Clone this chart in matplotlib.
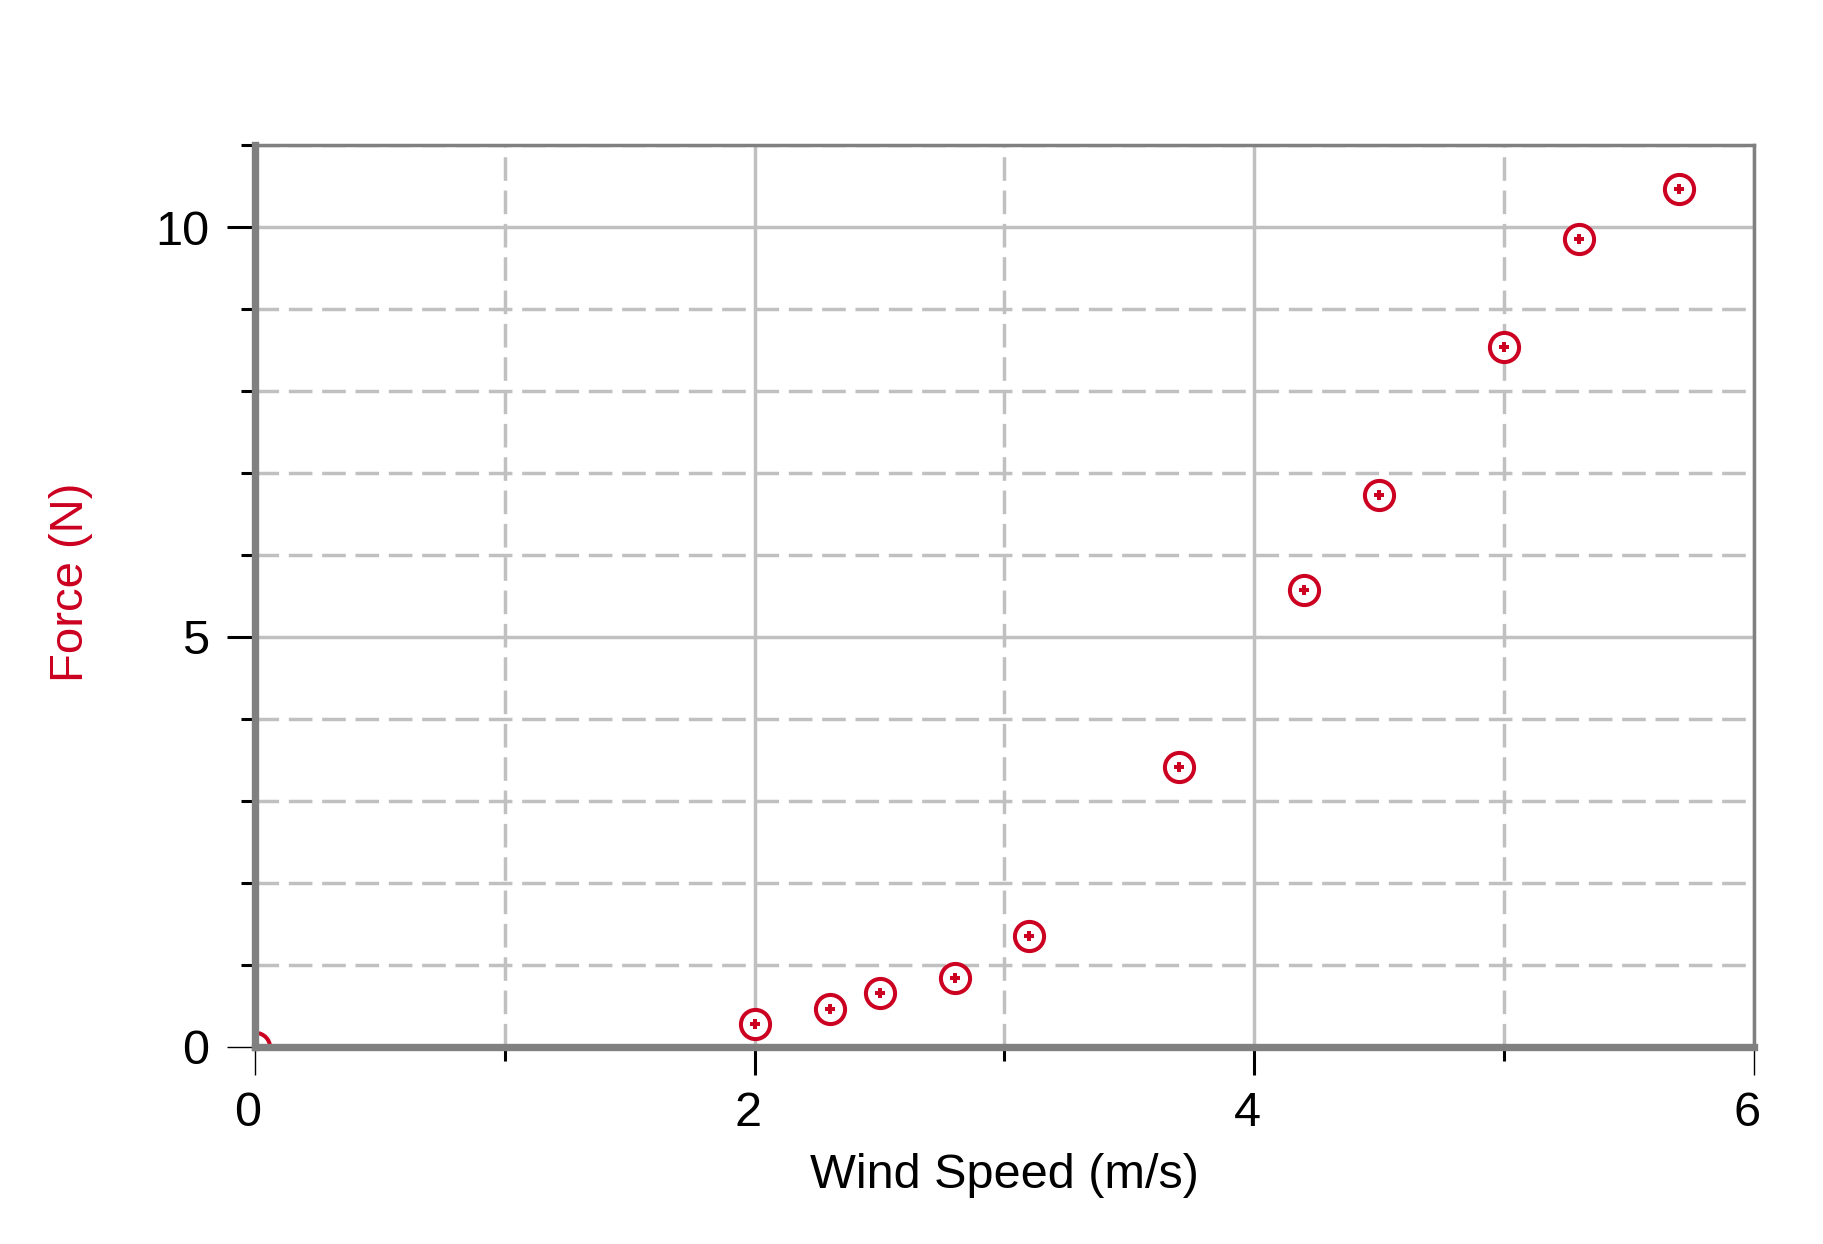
import matplotlib
matplotlib.use("Agg")
import matplotlib.pyplot as plt
from matplotlib.ticker import FixedLocator
from matplotlib.transforms import ScaledTranslation

wind_speed = [0.0, 2.0, 2.3, 2.5, 2.8, 3.1, 3.7, 4.2, 4.5, 5.0, 5.3, 5.7]
force = [0.0, 0.28, 0.46, 0.66, 0.84, 1.35, 3.41, 5.57, 6.73, 8.54, 9.85, 10.47]
x_major = [0, 2, 4, 6]
y_major = [0, 5, 10]
x_minor = [1, 3, 5]
y_minor = [1, 2, 3, 4, 6, 7, 8, 9, 11]
x_label = "Wind Speed (m/s)"
y_label = "Force (N)"

RED = "#cc0020"
GRID = "#c0c0c0"
SPINE = "#808080"

plt.rcParams['font.family'] = ['Liberation Sans', 'DejaVu Sans']

fig = plt.figure(figsize=(18.24, 12.44), dpi=100)
ax = fig.add_axes([0.1398, 0.1584, 0.8218, 0.7250])

ax.set_xlim(0, 6)
ax.set_ylim(0, 11)
ax.xaxis.set_major_locator(FixedLocator(x_major))
ax.yaxis.set_major_locator(FixedLocator(y_major))
ax.xaxis.set_minor_locator(FixedLocator(x_minor))
ax.yaxis.set_minor_locator(FixedLocator(y_minor))

ax.grid(True, which='major', color=GRID, linewidth=2.5, linestyle='-', zorder=0)
ax.grid(True, which='minor', color=GRID, linewidth=2.5, linestyle=(0, (6.8, 2.8)), zorder=0)
ax.set_axisbelow(True)

ax.plot(wind_speed, force, linestyle='none', marker='o', markersize=21,
        markerfacecolor='white', markeredgecolor=RED, markeredgewidth=2.9, zorder=3)
ax.plot(wind_speed, force, linestyle='none', marker='P', markersize=6.8,
        color=RED, markeredgewidth=0, zorder=4)

for side in ['left', 'bottom']:
    ax.spines[side].set_linewidth(5.3)
    ax.spines[side].set_color(SPINE)
for side in ['top', 'right']:
    ax.spines[side].set_linewidth(2.5)
    ax.spines[side].set_color(SPINE)
for s in ax.spines.values():
    s.set_zorder(5)

ax.tick_params(which='major', direction='out', length=20, width=2.2, color='black',
               labelsize=35)
ax.tick_params(axis='x', which='major', pad=12)
ax.tick_params(axis='y', which='major', pad=13)
ax.tick_params(which='minor', direction='out', length=10, width=2.2, color='black')

xt = ax.xaxis.get_major_ticks()
xt[0].tick1line.set_markeredgewidth(1.0)
xt[-1].tick1line.set_markeredgewidth(1.0)
ax.yaxis.get_major_ticks()[0].tick1line.set_markeredgewidth(1.0)

shift = ScaledTranslation(-7 / 100, 0, fig.dpi_scale_trans)
for lbl in ax.get_xticklabels():
    lbl.set_transform(lbl.get_transform() + shift)

ax.set_xlabel(x_label, fontsize=35, color='black')
ax.set_ylabel(y_label, fontsize=34, color=RED)
ax.xaxis.set_label_coords(0.5, -0.118)
ax.yaxis.set_label_coords(-0.108, 0.5155)

fig.savefig("out.png", dpi=100, facecolor='white')
